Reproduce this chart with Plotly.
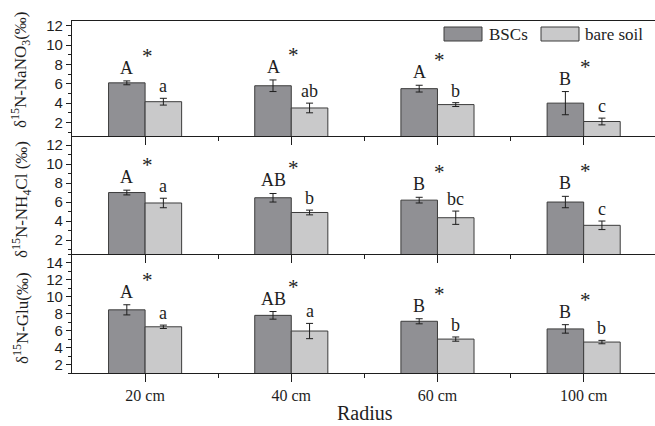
import plotly.graph_objects as go

# ---------------- data ----------------
radius_labels = ["20 cm", "40 cm", "60 cm", "100 cm"]
series_names = ["BSCs", "bare soil"]

nano3_bsc = [6.1, 5.8, 5.5, 4.0]
nano3_bsc_err = [0.2, 0.6, 0.35, 1.2]
nano3_bare = [4.15, 3.5, 3.85, 2.1]
nano3_bare_err = [0.35, 0.5, 0.2, 0.35]

nh4_bsc = [7.0, 6.45, 6.2, 6.0]
nh4_bsc_err = [0.25, 0.45, 0.3, 0.6]
nh4_bare = [5.9, 4.9, 4.35, 3.55]
nh4_bare_err = [0.5, 0.25, 0.7, 0.45]

glu_bsc = [8.45, 7.8, 7.1, 6.2]
glu_bsc_err = [0.6, 0.45, 0.3, 0.5]
glu_bare = [6.45, 5.95, 5.0, 4.65]
glu_bare_err = [0.2, 0.9, 0.25, 0.2]

nano3_bsc_letters = ["A", "A", "A", "B"]
nano3_bare_letters = ["a", "ab", "b", "c"]
nh4_bsc_letters = ["A", "AB", "B", "B"]
nh4_bare_letters = ["a", "b", "bc", "c"]
glu_bsc_letters = ["A", "AB", "B", "B"]
glu_bare_letters = ["a", "a", "b", "b"]
sig_marks = ["*", "*", "*", "*"]

y_titles = ["δ<sup>15</sup>N-NaNO<sub>3</sub>(‰)",
            "δ<sup>15</sup>N-NH<sub>4</sub>Cl (‰)",
            "δ<sup>15</sup>N-Glu(‰)"]
x_title = "Radius"

# ---------------- style ----------------
W, H = 655, 426
ML, MR, MT, MB = 72, 0, 21, 53
PW, PH = W - ML - MR, H - MT - MB
DARK = "#909094"
LIGHT = "#c9c9ca"
EDGE = "#3c3c3c"
INK = "#1e1e1e"
SERIF = "Liberation Serif"
SANS = "Liberation Sans"

def py2paper(py):
    return (MT + PH - py) / PH

def px2paper(px):
    return (px - ML) / PW

panels = [
    dict(bsc=nano3_bsc, bsc_e=nano3_bsc_err, bare=nano3_bare, bare_e=nano3_bare_err,
         lb=nano3_bsc_letters, lw=nano3_bare_letters, rng=[0.6, 12.5],
         ticks=[2, 4, 6, 8, 10, 12], dom=[py2paper(136), 1.0], title_py=70),
    dict(bsc=nh4_bsc, bsc_e=nh4_bsc_err, bare=nh4_bare, bare_e=nh4_bare_err,
         lb=nh4_bsc_letters, lw=nh4_bare_letters, rng=[0.5, 12.95],
         ticks=[2, 4, 6, 8, 10, 12], dom=[py2paper(254.3), py2paper(136)], title_py=200),
    dict(bsc=glu_bsc, bsc_e=glu_bsc_err, bare=glu_bare, bare_e=glu_bare_err,
         lb=glu_bsc_letters, lw=glu_bare_letters, rng=[1.0, 15.0],
         ticks=[2, 4, 6, 8, 10, 12, 14], dom=[0.0, py2paper(254.3)], title_py=318),
]

xpos = list(range(len(radius_labels)))
fig = go.Figure()
annotations = []

for i, p in enumerate(panels):
    k = "" if i == 0 else str(i + 1)
    xa, ya = "x" + k, "y" + k
    for vals, errs, color, name in [(p["bsc"], p["bsc_e"], DARK, series_names[0]),
                                    (p["bare"], p["bare_e"], LIGHT, series_names[1])]:
        fig.add_trace(go.Bar(
            x=xpos, y=vals, name=name, xaxis=xa, yaxis=ya, showlegend=False,
            marker=dict(color=color, line=dict(color=EDGE, width=1)),
            error_y=dict(type="data", array=errs, visible=True,
                         color=INK, thickness=1, width=3.5),
        ))
    for j in xpos:
        top_b = p["bsc"][j] + p["bsc_e"][j]
        top_w = p["bare"][j] + p["bare_e"][j]
        annotations.append(dict(x=j - 0.125, y=top_b, xref=xa, yref=ya, text=p["lb"][j],
                                showarrow=False, yanchor="bottom", yshift=1,
                                font=dict(family=SERIF, size=18, color=INK)))
        annotations.append(dict(x=j + 0.125, y=top_w, xref=xa, yref=ya, text=p["lw"][j],
                                showarrow=False, yanchor="bottom", yshift=0,
                                font=dict(family=SERIF, size=18, color=INK)))
        annotations.append(dict(x=j, y=top_b, xref=xa, yref=ya, text=sig_marks[j],
                                showarrow=False, yanchor="bottom", yshift=11, xshift=2,
                                font=dict(family=SERIF, size=21, color=INK)))
    annotations.append(dict(x=0, xref="paper", xshift=-51, y=py2paper(p["title_py"]),
                            yref="paper", text=y_titles[i], textangle=-90,
                            showarrow=False, xanchor="center", yanchor="middle",
                            font=dict(family=SERIF, size=17, color=INK)))

    last = i == len(panels) - 1
    fig.update_layout(**{
        ("xaxis" + k): dict(
            domain=[0, 1], anchor=ya, range=[-0.5, 3.488],
            tickmode="array", tickvals=xpos, ticktext=radius_labels,
            showticklabels=last, ticks="outside", ticklen=8, tickwidth=1.2,
            tickcolor=INK, showline=True, linecolor=INK, linewidth=1.3,
            showgrid=False, zeroline=False,
            minor=dict(tickmode="array", tickvals=[0.5, 1.5, 2.5], ticks="outside",
                       ticklen=4, tickwidth=1.2, tickcolor=INK),
            tickfont=dict(family=SERIF, size=16, color=INK),
            mirror=(i == 0),
        ),
        ("yaxis" + k): dict(
            domain=p["dom"], anchor=xa, range=p["rng"],
            tickmode="array", tickvals=p["ticks"], ticks="outside", ticklen=5,
            tickwidth=1.2, tickcolor=INK, showline=True, linecolor=INK, linewidth=1.3,
            showgrid=False, zeroline=False,
            minor=dict(dtick=1, tick0=0, ticks="outside", ticklen=3, tickwidth=1, tickcolor=INK),
            tickfont=dict(family=SANS, size=15, color=INK),
        ),
    })

# x-axis title
annotations.append(dict(x=px2paper(365), y=py2paper(413), xref="paper", yref="paper",
                        text=x_title, showarrow=False, xanchor="center", yanchor="middle",
                        font=dict(family=SERIF, size=20, color=INK)))

# legend (drawn manually)
shapes = []
legend_items = [(series_names[0], DARK, 444, 482, 487), (series_names[1], LIGHT, 541, 579, 583)]
for name, color, x0, x1, tx in legend_items:
    shapes.append(dict(type="rect", xref="paper", yref="paper",
                       x0=px2paper(x0), x1=px2paper(x1), y0=py2paper(41), y1=py2paper(27),
                       fillcolor=color, line=dict(color=EDGE, width=1)))
    annotations.append(dict(x=px2paper(tx), y=py2paper(34), xref="paper", yref="paper",
                            text=name, showarrow=False, xanchor="left", yanchor="middle",
                            font=dict(family=SERIF, size=17, color=INK)))

fig.update_layout(
    width=W, height=H,
    margin=dict(l=ML, r=MR, t=MT, b=MB, pad=0),
    paper_bgcolor="white", plot_bgcolor="white",
    barmode="group", bargap=0.5, bargroupgap=0,
    annotations=annotations, shapes=shapes, showlegend=False,
)

fig.write_html("out.html", config={"displayModeBar": False},
               post_script="document.body.style.margin='0';document.body.style.overflow='hidden';")
